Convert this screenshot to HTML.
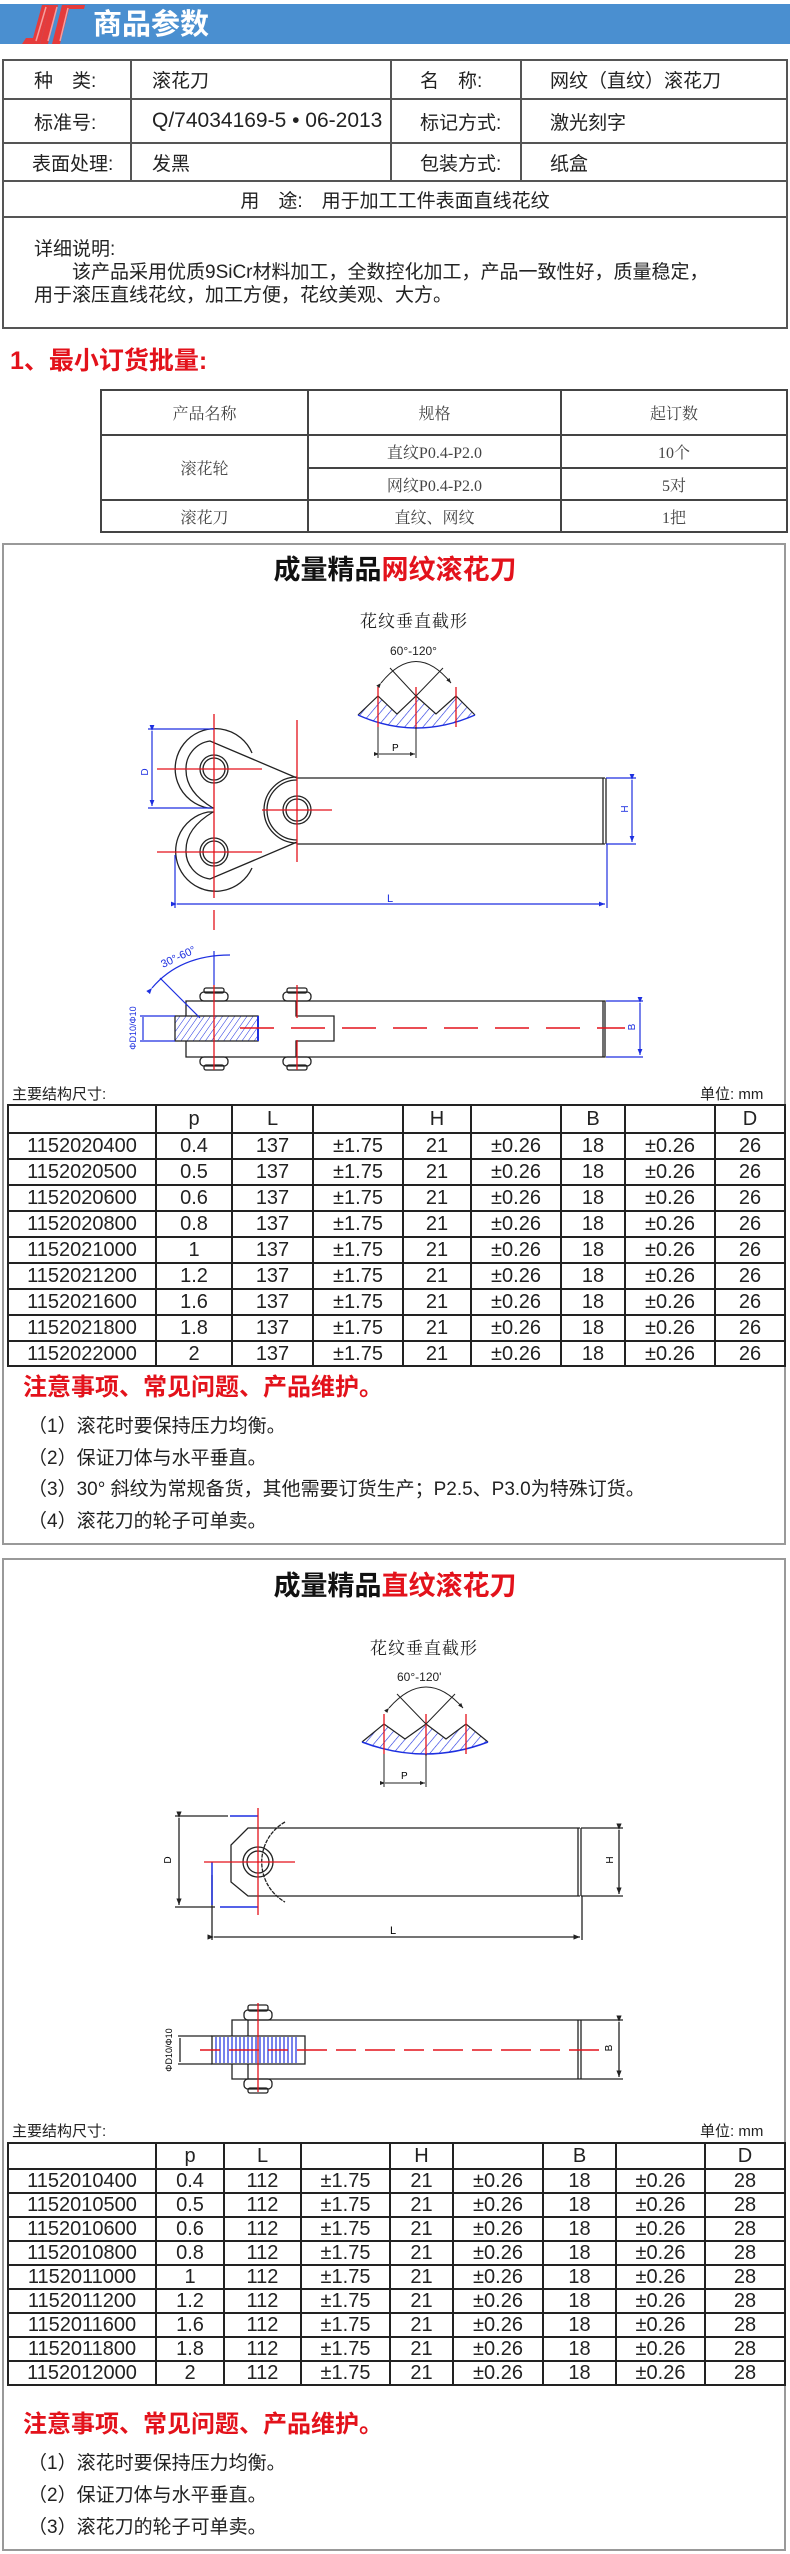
<!DOCTYPE html>
<html><head><meta charset="utf-8">
<style>
*{margin:0;padding:0;box-sizing:border-box}
body{width:790px;height:2554px;position:relative;background:#fff;font-family:"Liberation Sans","Noto Sans CJK SC",sans-serif;color:#222;overflow:hidden}
.a{position:absolute;white-space:nowrap}
table{border-collapse:collapse;table-layout:fixed;position:absolute}
.spec td{border:2px solid #555;font-size:19px;padding-left:0}
.mo td{border:2px solid #444;font-family:"Liberation Serif","Noto Serif CJK SC",serif;font-size:16px;color:#444;text-align:center}
.dt td{border:2px solid #222;font-size:20px;text-align:center;color:#222;line-height:1;padding:0}
.box{position:absolute;border:2px solid #999;left:2px;width:784px}
.title{font-size:27px;font-weight:bold;text-align:center;left:0;width:790px;color:#111}
.red{color:#e3121b}
.note{font-size:19px;left:28px;color:#222}
.nh{font-size:24px;font-weight:bold;color:#e3121b;left:23px}
</style></head><body>

<!-- header -->
<div class="a" style="left:0;top:4px;width:790px;height:40px;background:#4a8fd0"></div>
<svg class="a" style="left:0;top:0" width="100" height="50">
<polygon points="22,44 26,38 33,38 42,5 50,5 40,44" fill="#e53b3b"/>
<polygon points="40,44 50,5 58,5 48,44" fill="#e53b3b"/>
<polygon points="52,44 62,5 85,5 84,9 69,9 60,44" fill="#e53b3b"/>
<line x1="36" y1="41" x2="46" y2="7" stroke="#f4a0a0" stroke-width="1.5"/>
<line x1="48" y1="41" x2="57" y2="7" stroke="#f4a0a0" stroke-width="1.5"/>
<line x1="60" y1="41" x2="68" y2="8" stroke="#f4a0a0" stroke-width="1.5"/>
</svg>
<div class="a" style="left:93px;top:8px;font-size:29px;font-weight:bold;color:#fff;line-height:34px">商品参数</div>

<!-- spec table -->
<table class="spec" style="left:2px;top:59px;width:784px">
<colgroup><col style="width:128px"><col style="width:260px"><col style="width:130px"><col style="width:266px"></colgroup>
<tr style="height:39px"><td style="padding-left:30px">种　类:</td><td style="padding-left:20px">滚花刀</td><td style="padding-left:28px">名　称:</td><td style="padding-left:28px">网纹（直纹）滚花刀</td></tr>
<tr style="height:44px"><td style="padding-left:30px">标准号:</td><td style="padding-left:20px;font-size:21px">Q/74034169-5 • 06-2013</td><td style="padding-left:28px">标记方式:</td><td style="padding-left:28px">激光刻字</td></tr>
<tr style="height:38px"><td style="padding-left:28px">表面处理:</td><td style="padding-left:20px">发黑</td><td style="padding-left:28px">包装方式:</td><td style="padding-left:28px">纸盒</td></tr>
<tr style="height:36px"><td colspan="4" style="text-align:center">用　途:　用于加工工件表面直线花纹</td></tr>
<tr style="height:111px"><td colspan="4" style="padding-left:30px;line-height:23px;vertical-align:middle">详细说明:<br>　　该产品采用优质9SiCr材料加工，全数控化加工，产品一致性好，质量稳定，<br>用于滚压直线花纹，加工方便，花纹美观、大方。</td></tr>
</table>

<div class="a" style="left:10px;top:346px;font-size:25px;font-weight:bold;color:#e3121b;line-height:30px">1、最小订货批量:</div>

<table class="mo" style="left:100px;top:389px;width:686px">
<colgroup><col style="width:207px"><col style="width:253px"><col style="width:226px"></colgroup>
<tr style="height:45px"><td>产品名称</td><td>规格</td><td>起订数</td></tr>
<tr style="height:33px"><td rowspan="2">滚花轮</td><td>直纹P0.4-P2.0</td><td>10个</td></tr>
<tr style="height:32px"><td>网纹P0.4-P2.0</td><td>5对</td></tr>
<tr style="height:32px"><td>滚花刀</td><td>直纹、网纹</td><td>1把</td></tr>
</table>

<!-- ============ BOX 1 ============ -->
<div class="box" style="top:543px;height:1002px"></div>
<div class="a title" style="top:554px;line-height:32px">成量精品<span class="red">网纹滚花刀</span></div>
<div class="a" style="left:360px;top:607px;font-size:17px;font-family:'Liberation Serif','Noto Serif CJK SC',serif;letter-spacing:1px">花纹垂直截形</div>
<div class="a" style="left:390px;top:644px;font-size:12px">60°-120°</div>

<svg class="a" style="left:0;top:0" width="790" height="1100">
<defs>
<pattern id="h1" width="7" height="7" patternUnits="userSpaceOnUse" patternTransform="rotate(40)"><line x1="0" y1="0" x2="0" y2="7" stroke="#1d2fe0" stroke-width="1.2"/></pattern>
<pattern id="h2" width="5" height="5" patternUnits="userSpaceOnUse" patternTransform="rotate(35)"><line x1="0" y1="0" x2="0" y2="5" stroke="#1d2fe0" stroke-width="1"/></pattern>
<marker id="ar" markerWidth="6" markerHeight="6" refX="5" refY="3" orient="auto"><path d="M0,1 L5,3 L0,5 Z" fill="#222"/></marker>
<marker id="ab" markerWidth="6" markerHeight="6" refX="5" refY="3" orient="auto"><path d="M0,1 L5,3 L0,5 Z" fill="#1d2fe0"/></marker>
</defs>
<path d="M358,715 L378,696 L397,714 L416,696 L436,714 L456,696 L475,715 Q416,741 358,715 Z" fill="url(#h1)" stroke="none"/>
<path d="M358,715 L378,696 L397,714 L416,696 L436,714 L456,696 L475,715" fill="none" stroke="#222" stroke-width="1.2"/>
<path d="M358,715 Q416,741 475,715" fill="none" stroke="#1d2fe0" stroke-width="1.5"/>
<g stroke="#e3121b" stroke-width="1.3"><line x1="378" y1="687" x2="378" y2="727"/><line x1="416" y1="687" x2="416" y2="729"/><line x1="456" y1="687" x2="456" y2="727"/></g>
<line x1="416" y1="696" x2="390" y2="668" stroke="#222"/><line x1="416" y1="696" x2="443" y2="668" stroke="#222"/>
<path d="M381,683 Q416,640 451,683" fill="none" stroke="#222" marker-start="url(#ar)" marker-end="url(#ar)"/>
<line x1="378" y1="727" x2="378" y2="758" stroke="#222"/><line x1="416" y1="727" x2="416" y2="758" stroke="#222"/>
<line x1="379" y1="754" x2="415" y2="754" stroke="#222" marker-start="url(#ar)" marker-end="url(#ar)"/>
<text x="392" y="751" font-size="10" font-family="Liberation Sans">P</text>

<g fill="none" stroke="#222" stroke-width="1.3">
<path d="M252,753 A40,40 0 1,0 208,808 L214,808"/>
<path d="M213,808 Q186,792 186,770 A28,28 0 0,1 210,741 L297,778"/>
<path d="M252,868 A40,40 0 1,1 208,812 L214,812"/>
<path d="M213,812 Q186,828 186,850 A28,28 0 0,0 210,879 L297,842"/>
<path d="M297,777 A33,33 0 0,0 297,843"/>
<path d="M297,780 A30,30 0 0,0 297,840"/>
<circle cx="214" cy="769" r="14"/><circle cx="214" cy="769" r="11"/>
<circle cx="214" cy="852" r="14"/><circle cx="214" cy="852" r="11"/>
<circle cx="297" cy="810" r="14"/><circle cx="297" cy="810" r="11"/>
<line x1="297" y1="778" x2="605" y2="778"/><line x1="297" y1="844" x2="605" y2="844"/>
<line x1="603" y1="778" x2="603" y2="844"/><line x1="606" y1="778" x2="606" y2="844"/>
</g>
<g stroke="#e3121b" stroke-width="1.3">
<line x1="157" y1="769" x2="262" y2="769"/><line x1="157" y1="852" x2="262" y2="852"/>
<line x1="214" y1="714" x2="214" y2="898"/><line x1="214" y1="910" x2="214" y2="930"/>
<line x1="262" y1="810" x2="332" y2="810"/><line x1="297" y1="720" x2="297" y2="862"/>
</g>
<g stroke="#1d2fe0" stroke-width="1.2" fill="none">
<line x1="148" y1="729" x2="214" y2="729"/><line x1="148" y1="808" x2="212" y2="808"/>
<line x1="152" y1="731" x2="152" y2="806" marker-start="url(#ab)" marker-end="url(#ab)"/>
<line x1="606" y1="778" x2="636" y2="778"/><line x1="606" y1="844" x2="636" y2="844"/>
<line x1="632" y1="780" x2="632" y2="842" marker-start="url(#ab)" marker-end="url(#ab)"/>
<line x1="175" y1="855" x2="175" y2="908"/><line x1="607" y1="844" x2="607" y2="908"/>
<line x1="177" y1="904" x2="605" y2="904" marker-start="url(#ab)" marker-end="url(#ab)"/>
</g>
<text x="148" y="772" font-size="10" fill="#1d2fe0" transform="rotate(-90 148 772)" text-anchor="middle">D</text>
<text x="630" y="811" font-size="10" fill="#1d2fe0" transform="rotate(-90 628 811)" text-anchor="middle">H</text>
<text x="387" y="902" font-size="11" fill="#1d2fe0">L</text>

<g fill="none" stroke="#222" stroke-width="1.3">
<path d="M186,1016 L186,1001 L605,1001 L605,1057 L186,1057 L186,1041"/>
<path d="M296,1001 L296,1016 L334,1016 L334,1041 L296,1041 L296,1057"/>
<line x1="603" y1="1001" x2="603" y2="1057"/>
<rect x="200" y="992" width="28" height="9" rx="4"/><rect x="204" y="988" width="20" height="5" rx="2"/>
<rect x="283" y="992" width="28" height="9" rx="4"/><rect x="287" y="988" width="20" height="5" rx="2"/>
<rect x="200" y="1057" width="28" height="9" rx="4"/><rect x="204" y="1065" width="20" height="5" rx="2"/>
<rect x="283" y="1057" width="28" height="9" rx="4"/><rect x="287" y="1065" width="20" height="5" rx="2"/>
</g>
<rect x="175" y="1016" width="83" height="25" fill="url(#h2)" stroke="#222" stroke-width="1.3"/>
<line x1="258" y1="1016" x2="258" y2="1041" stroke="#1d2fe0" stroke-width="2"/>
<line x1="240" y1="1028" x2="625" y2="1028" stroke="#e3121b" stroke-width="1.5" stroke-dasharray="34,17"/>
<g stroke="#e3121b" stroke-width="1.3">
<line x1="214" y1="985" x2="214" y2="1070"/><line x1="297" y1="985" x2="297" y2="1018"/><line x1="297" y1="1040" x2="297" y2="1070"/>
</g>
<g stroke="#1d2fe0" stroke-width="1.2" fill="none">
<line x1="214" y1="951" x2="214" y2="985"/>
<path d="M152,988 Q180,955 230,955" marker-start="url(#ab)"/>
<line x1="160" y1="978" x2="200" y2="1018"/>
<line x1="140" y1="1016" x2="175" y2="1016"/><line x1="140" y1="1041" x2="175" y2="1041"/>
<line x1="143" y1="1017" x2="143" y2="1040"/>
<line x1="606" y1="1001" x2="643" y2="1001"/><line x1="606" y1="1057" x2="643" y2="1057"/>
<line x1="640" y1="1003" x2="640" y2="1055" marker-start="url(#ab)" marker-end="url(#ab)"/>
</g>
<text x="163" y="968" font-size="11" fill="#1d2fe0" transform="rotate(-25 163 968)">30°-60°</text>
<text x="136" y="1028" font-size="9" fill="#1d2fe0" transform="rotate(-90 136 1028)" text-anchor="middle">ΦD10/Φ10</text>
<text x="637" y="1029" font-size="10" fill="#1d2fe0" transform="rotate(-90 635 1029)" text-anchor="middle">B</text>
</svg>

<div class="a" style="left:12px;top:1083px;font-size:15px">主要结构尺寸:</div>
<div class="a" style="left:700px;top:1083px;font-size:15px">单位: mm</div>

<table class="dt" style="left:7px;top:1104px;width:777px">
<colgroup><col style="width:148px"><col style="width:76px"><col style="width:81px"><col style="width:90px"><col style="width:68px"><col style="width:90px"><col style="width:64px"><col style="width:90px"><col style="width:70px"></colgroup>
<tr style="height:28px"><td></td><td>p</td><td>L</td><td></td><td>H</td><td></td><td>B</td><td></td><td>D</td></tr>
<tr style="height:26px"><td>1152020400</td><td>0.4</td><td>137</td><td>±1.75</td><td>21</td><td>±0.26</td><td>18</td><td>±0.26</td><td>26</td></tr>
<tr style="height:26px"><td>1152020500</td><td>0.5</td><td>137</td><td>±1.75</td><td>21</td><td>±0.26</td><td>18</td><td>±0.26</td><td>26</td></tr>
<tr style="height:26px"><td>1152020600</td><td>0.6</td><td>137</td><td>±1.75</td><td>21</td><td>±0.26</td><td>18</td><td>±0.26</td><td>26</td></tr>
<tr style="height:26px"><td>1152020800</td><td>0.8</td><td>137</td><td>±1.75</td><td>21</td><td>±0.26</td><td>18</td><td>±0.26</td><td>26</td></tr>
<tr style="height:26px"><td>1152021000</td><td>1</td><td>137</td><td>±1.75</td><td>21</td><td>±0.26</td><td>18</td><td>±0.26</td><td>26</td></tr>
<tr style="height:26px"><td>1152021200</td><td>1.2</td><td>137</td><td>±1.75</td><td>21</td><td>±0.26</td><td>18</td><td>±0.26</td><td>26</td></tr>
<tr style="height:26px"><td>1152021600</td><td>1.6</td><td>137</td><td>±1.75</td><td>21</td><td>±0.26</td><td>18</td><td>±0.26</td><td>26</td></tr>
<tr style="height:26px"><td>1152021800</td><td>1.8</td><td>137</td><td>±1.75</td><td>21</td><td>±0.26</td><td>18</td><td>±0.26</td><td>26</td></tr>
<tr style="height:25px"><td>1152022000</td><td>2</td><td>137</td><td>±1.75</td><td>21</td><td>±0.26</td><td>18</td><td>±0.26</td><td>26</td></tr>
</table>

<div class="a nh" style="top:1372px;line-height:32px">注意事项、常见问题、产品维护。</div>
<div class="a note" style="top:1416px;line-height:22px">（1）滚花时要保持压力均衡。</div>
<div class="a note" style="top:1448px;line-height:22px">（2）保证刀体与水平垂直。</div>
<div class="a note" style="top:1479px;line-height:22px">（3）30° 斜纹为常规备货，其他需要订货生产；P2.5、P3.0为特殊订货。</div>
<div class="a note" style="top:1511px;line-height:22px">（4）滚花刀的轮子可单卖。</div>

<!-- ============ BOX 2 ============ -->
<div class="box" style="top:1558px;height:993px"></div>
<div class="a title" style="top:1570px;line-height:32px">成量精品<span class="red">直纹滚花刀</span></div>
<div class="a" style="left:370px;top:1634px;font-size:17px;font-family:'Liberation Serif','Noto Serif CJK SC',serif;letter-spacing:1px">花纹垂直截形</div>
<div class="a" style="left:397px;top:1670px;font-size:12px">60°-120'</div>

<svg class="a" style="left:0;top:0" width="790" height="2110">
<defs>
<pattern id="h3" width="7" height="7" patternUnits="userSpaceOnUse" patternTransform="rotate(40)"><line x1="0" y1="0" x2="0" y2="7" stroke="#1d2fe0" stroke-width="1.2"/></pattern>
<marker id="ar2" markerWidth="6" markerHeight="6" refX="5" refY="3" orient="auto"><path d="M0,1 L5,3 L0,5 Z" fill="#222"/></marker>
</defs>
<path d="M362,1742 L384,1724 L405,1739 L426,1724 L446,1739 L466,1724 L488,1742 Q425,1766 362,1742 Z" fill="url(#h3)"/>
<path d="M362,1742 L384,1724 L405,1739 L426,1724 L446,1739 L466,1724 L488,1742" fill="none" stroke="#222" stroke-width="1.2"/>
<path d="M362,1742 Q425,1766 488,1742" fill="none" stroke="#1d2fe0" stroke-width="1.5"/>
<g stroke="#e3121b" stroke-width="1.3"><line x1="384" y1="1714" x2="384" y2="1754"/><line x1="426" y1="1714" x2="426" y2="1756"/><line x1="466" y1="1714" x2="466" y2="1754"/></g>
<line x1="426" y1="1724" x2="397" y2="1694" stroke="#222"/><line x1="426" y1="1724" x2="455" y2="1694" stroke="#222"/>
<path d="M389,1708 Q426,1666 463,1708" fill="none" stroke="#222" marker-start="url(#ar2)" marker-end="url(#ar2)"/>
<line x1="384" y1="1754" x2="384" y2="1787" stroke="#222"/><line x1="426" y1="1754" x2="426" y2="1787" stroke="#222"/>
<line x1="385" y1="1783" x2="425" y2="1783" stroke="#222" marker-start="url(#ar2)" marker-end="url(#ar2)"/>
<text x="401" y="1779" font-size="10">P</text>

<g fill="none" stroke="#222" stroke-width="1.3">
<path d="M285,1822 A46,46 0 0,0 285,1902" stroke-dasharray="4,1"/>
<path d="M580,1828 L248,1828 L231,1845 L231,1882 L248,1896 L580,1896"/>
<line x1="578" y1="1828" x2="578" y2="1896"/><line x1="581" y1="1828" x2="581" y2="1896"/>
<line x1="581" y1="1828" x2="623" y2="1828"/><line x1="581" y1="1896" x2="623" y2="1896"/>
<circle cx="258" cy="1862" r="15"/><circle cx="258" cy="1862" r="11"/>
<line x1="175" y1="1816" x2="228" y2="1816"/><line x1="175" y1="1907" x2="215" y2="1907"/>
<line x1="179" y1="1818" x2="179" y2="1905" marker-start="url(#ar2)" marker-end="url(#ar2)"/>
<line x1="619" y1="1830" x2="619" y2="1894" marker-start="url(#ar2)" marker-end="url(#ar2)"/>
<line x1="212" y1="1875" x2="212" y2="1940"/><line x1="582" y1="1896" x2="582" y2="1940"/>
<line x1="214" y1="1937" x2="580" y2="1937" marker-start="url(#ar2)" marker-end="url(#ar2)"/>
</g>
<g stroke="#1d2fe0" stroke-width="1.5"><line x1="230" y1="1816" x2="258" y2="1816"/><line x1="212" y1="1862" x2="212" y2="1905"/><line x1="220" y1="1907" x2="258" y2="1907"/></g>
<g stroke="#e3121b" stroke-width="1.3"><line x1="204" y1="1862" x2="295" y2="1862"/><line x1="258" y1="1808" x2="258" y2="1915"/></g>
<text x="173" y="1862" font-size="10" transform="rotate(-90 171 1862)" text-anchor="middle">D</text>
<text x="615" y="1862" font-size="10" transform="rotate(-90 613 1862)" text-anchor="middle">H</text>
<text x="390" y="1934" font-size="11">L</text>

<g fill="none" stroke="#222" stroke-width="1.3">
<path d="M232,2036 L232,2020 L623,2020 M232,2064 L232,2079 L623,2079"/>
<line x1="248" y1="2020" x2="248" y2="2036"/><line x1="248" y1="2064" x2="248" y2="2079"/>
<line x1="578" y1="2020" x2="578" y2="2079"/><line x1="581" y1="2020" x2="581" y2="2079"/>
<rect x="244" y="2010" width="28" height="10" rx="4"/><rect x="248" y="2005" width="20" height="6" rx="2"/>
<rect x="244" y="2079" width="28" height="10" rx="4"/><rect x="248" y="2088" width="20" height="5" rx="2"/>
<line x1="178" y1="2036" x2="212" y2="2036"/><line x1="178" y1="2064" x2="212" y2="2064"/>
<line x1="180" y1="2038" x2="180" y2="2062"/>
<line x1="619" y1="2022" x2="619" y2="2077" marker-start="url(#ar2)" marker-end="url(#ar2)"/>
</g>
<rect x="212" y="2036" width="93" height="28" fill="#fff" stroke="#222" stroke-width="1.3"/>
<g stroke="#1d2fe0" stroke-width="1.2">
<line x1="216" y1="2037" x2="216" y2="2063"/><line x1="220" y1="2037" x2="220" y2="2063"/><line x1="224" y1="2037" x2="224" y2="2063"/><line x1="228" y1="2037" x2="228" y2="2063"/><line x1="232" y1="2037" x2="232" y2="2063"/><line x1="236" y1="2037" x2="236" y2="2063"/><line x1="240" y1="2037" x2="240" y2="2063"/><line x1="244" y1="2037" x2="244" y2="2063"/><line x1="248" y1="2037" x2="248" y2="2063"/><line x1="252" y1="2037" x2="252" y2="2063"/><line x1="256" y1="2037" x2="256" y2="2063"/><line x1="260" y1="2037" x2="260" y2="2063"/><line x1="264" y1="2037" x2="264" y2="2063"/><line x1="268" y1="2037" x2="268" y2="2063"/><line x1="272" y1="2037" x2="272" y2="2063"/><line x1="276" y1="2037" x2="276" y2="2063"/><line x1="280" y1="2037" x2="280" y2="2063"/><line x1="284" y1="2037" x2="284" y2="2063"/><line x1="288" y1="2037" x2="288" y2="2063"/><line x1="292" y1="2037" x2="292" y2="2063"/><line x1="296" y1="2037" x2="296" y2="2063"/>
</g>
<line x1="200" y1="2050" x2="600" y2="2050" stroke="#e3121b" stroke-width="1.5" stroke-dasharray="20,9,30,9"/>
<line x1="258" y1="2003" x2="258" y2="2092" stroke="#e3121b" stroke-width="1.3"/>
<text x="172" y="2050" font-size="9" transform="rotate(-90 172 2050)" text-anchor="middle">ΦD10/Φ10</text>
<text x="614" y="2050" font-size="10" transform="rotate(-90 612 2050)" text-anchor="middle">B</text>
</svg>

<div class="a" style="left:12px;top:2120px;font-size:15px">主要结构尺寸:</div>
<div class="a" style="left:700px;top:2120px;font-size:15px">单位: mm</div>

<table class="dt" style="left:7px;top:2142px;width:777px">
<colgroup><col style="width:148px"><col style="width:68px"><col style="width:77px"><col style="width:89px"><col style="width:63px"><col style="width:90px"><col style="width:73px"><col style="width:89px"><col style="width:80px"></colgroup>
<tr style="height:26px"><td></td><td>p</td><td>L</td><td></td><td>H</td><td></td><td>B</td><td></td><td>D</td></tr>
<tr style="height:24px"><td>1152010400</td><td>0.4</td><td>112</td><td>±1.75</td><td>21</td><td>±0.26</td><td>18</td><td>±0.26</td><td>28</td></tr>
<tr style="height:24px"><td>1152010500</td><td>0.5</td><td>112</td><td>±1.75</td><td>21</td><td>±0.26</td><td>18</td><td>±0.26</td><td>28</td></tr>
<tr style="height:24px"><td>1152010600</td><td>0.6</td><td>112</td><td>±1.75</td><td>21</td><td>±0.26</td><td>18</td><td>±0.26</td><td>28</td></tr>
<tr style="height:24px"><td>1152010800</td><td>0.8</td><td>112</td><td>±1.75</td><td>21</td><td>±0.26</td><td>18</td><td>±0.26</td><td>28</td></tr>
<tr style="height:24px"><td>1152011000</td><td>1</td><td>112</td><td>±1.75</td><td>21</td><td>±0.26</td><td>18</td><td>±0.26</td><td>28</td></tr>
<tr style="height:24px"><td>1152011200</td><td>1.2</td><td>112</td><td>±1.75</td><td>21</td><td>±0.26</td><td>18</td><td>±0.26</td><td>28</td></tr>
<tr style="height:24px"><td>1152011600</td><td>1.6</td><td>112</td><td>±1.75</td><td>21</td><td>±0.26</td><td>18</td><td>±0.26</td><td>28</td></tr>
<tr style="height:24px"><td>1152011800</td><td>1.8</td><td>112</td><td>±1.75</td><td>21</td><td>±0.26</td><td>18</td><td>±0.26</td><td>28</td></tr>
<tr style="height:24px"><td>1152012000</td><td>2</td><td>112</td><td>±1.75</td><td>21</td><td>±0.26</td><td>18</td><td>±0.26</td><td>28</td></tr>
</table>

<div class="a nh" style="top:2409px;line-height:32px">注意事项、常见问题、产品维护。</div>
<div class="a note" style="top:2453px;line-height:22px">（1）滚花时要保持压力均衡。</div>
<div class="a note" style="top:2485px;line-height:22px">（2）保证刀体与水平垂直。</div>
<div class="a note" style="top:2517px;line-height:22px">（3）滚花刀的轮子可单卖。</div>

</body></html>
